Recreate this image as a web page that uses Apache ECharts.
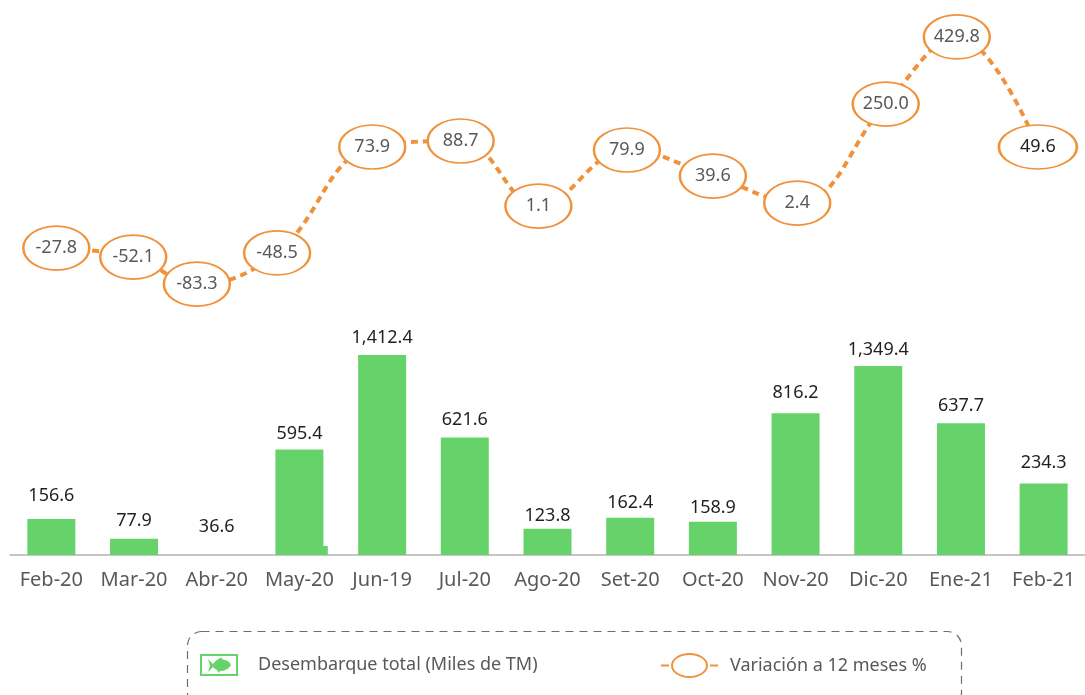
<!DOCTYPE html>
<html>
<head>
<meta charset="utf-8">
<style>
  html, body { margin: 0; height: 100%; background: #fff; overflow: hidden; }
  #chart { width: 1085px; height: 695px; }
</style>
</head>
<body>
<div id="chart"></div>
<script src="https://cdn.jsdelivr.net/npm/echarts@6/dist/echarts.min.js"></script>
<script>
const months = ['Feb-20', 'Mar-20', 'Abr-20', 'May-20', 'Jun-19', 'Jul-20', 'Ago-20', 'Set-20', 'Oct-20', 'Nov-20', 'Dic-20', 'Ene-21', 'Feb-21']

// printed labels
const landingLabels = [156.6, 77.9, 36.6, 595.4, 1412.4, 621.6, 123.8, 162.4, 158.9, 816.2, 1349.4, 637.7, 234.3]
const variationLabels = [-27.8, -52.1, -83.3, -48.5, 73.9, 88.7, 1.1, 79.9, 39.6, 2.4, 250.0, 429.8, 49.6]

// the picture does not draw to scale, so these are the heights as drawn
const landingDrawn = [255, 114, 0, 745, 1412, 830, 185, 263, 234, 1000, 1335, 930, 504]
const variationDrawn = [17.3, 14.3, 5.3, 15.7, 51, 53, 31.3, 50, 41.3, 32.3, 65.3, 87.7, 51]
// where each ellipse sits along the months, 0 = first month
const variationMonth = [0.06, 0.99, 1.76, 2.73, 3.88, 4.95, 5.89, 6.96, 8.0, 9.02, 10.09, 10.95, 11.93]
// stray sliver under the May bar
const strayDrawn = [0, 0, 0, 64, 0, 0, 0, 0, 0, 0, 0, 0, 0]

// gap between bar top and its label
const labelGaps = [14, 9, 19, 7, 8, 9, 4, 6, 5, 11, 7, 8, 12]

const GREEN = '#66D36A'
const ORANGE = '#F0923B'
const FONT = '"Noto Sans", sans-serif'

const ellipsePath = 'path://M0 1A1 1 0 1 1 2 1A1 1 0 1 1 0 1Z'
const fishIcon = 'path://M0 0H38V22H0ZM2 2V20H36V2ZM8 5L13 10C16 6 19 5 21 3.5L23 5.5C27 6 30 8 31 11C29 15 24 17 20 17L19 19L17 16C15 15 14 14 13 13L8 18L10 11.5Z'
const ringIcon = 'path://M10 12.5A18.5 12.5 0 1 1 47 12.5A18.5 12.5 0 1 1 10 12.5ZM12 12.5A16.5 10.5 0 1 0 45 12.5A16.5 10.5 0 1 0 12 12.5ZM0 11.5H8V13.5H0ZM49 11.5H57V13.5H49Z'

const fmt = v => v.toLocaleString('en-US', { minimumFractionDigits: 1, maximumFractionDigits: 1 })

const chart = echarts.init(document.getElementById('chart'), null, { renderer: 'canvas' })
chart.setOption({
  animation: false,
  textStyle: { fontFamily: FONT },
  grid: [
    { left: 10, right: 0, top: 355, bottom: 140 },
    { left: 10, right: 0, top: 0, height: 300 },
    { left: 16, right: -6, top: 355, bottom: 140 }
  ],
  xAxis: [
    {
      type: 'category',
      gridIndex: 0,
      data: months,
      axisTick: { show: false },
      axisLine: { lineStyle: { color: '#B3B3B3', width: 1.5 } },
      axisLabel: { interval: 0, color: '#58595B', fontSize: 20, margin: 15, fontFamily: FONT }
    },
    { type: 'value', gridIndex: 1, min: -0.5, max: 12.5, show: false },
    { type: 'category', gridIndex: 2, data: months, show: false }
  ],
  yAxis: [
    { type: 'value', gridIndex: 0, min: 0, max: 1412, show: false },
    { type: 'value', gridIndex: 1, min: 0, max: 100, show: false },
    { type: 'value', gridIndex: 2, min: 0, max: 1412, show: false }
  ],
  legend: [
    {
      left: 200,
      top: 654,
      padding: 0,
      itemWidth: 38,
      itemHeight: 22,
      data: [{ name: 'Desembarque total (Miles de TM)', icon: fishIcon }],
      textStyle: { color: '#58595B', fontSize: 18, padding: [12, 0, 0, 15], fontFamily: FONT }
    },
    {
      left: 661,
      top: 653,
      padding: 0,
      itemWidth: 57,
      itemHeight: 25,
      data: [{
        name: 'Variación a 12 meses %',
        icon: ringIcon,
        itemStyle: { color: ORANGE, borderWidth: 0 }
      }],
      textStyle: { color: '#58595B', fontSize: 18, padding: [12, 0, 0, 7], fontFamily: FONT }
    }
  ],
  graphic: [{
    type: 'rect',
    silent: true,
    shape: { x: 187.5, y: 631.5, width: 774, height: 75, r: 14 },
    style: { fill: 'none', stroke: '#6D6E71', lineWidth: 1.2, lineDash: [8, 6] }
  }],
  series: [
    {
      name: 'Stray',
      type: 'bar',
      xAxisIndex: 2,
      yAxisIndex: 2,
      barWidth: 48,
      itemStyle: { color: GREEN },
      data: strayDrawn
    },
    {
      name: 'Desembarque total (Miles de TM)',
      type: 'bar',
      xAxisIndex: 0,
      yAxisIndex: 0,
      barWidth: 48,
      itemStyle: { color: GREEN },
      data: landingDrawn.map((v, i) => ({
        value: v,
        label: {
          show: true,
          position: 'top',
          distance: labelGaps[i],
          formatter: fmt(landingLabels[i]),
          color: '#231F20',
          fontSize: 18,
          fontFamily: FONT
        }
      }))
    },
    {
      name: 'Variación a 12 meses %',
      type: 'line',
      xAxisIndex: 1,
      yAxisIndex: 1,
      smooth: 0.4,
      symbol: ellipsePath,
      symbolSize: [66, 44],
      symbolKeepAspect: false,
      lineStyle: { color: ORANGE, width: 4, type: [7, 5] },
      itemStyle: { color: '#fff', borderColor: ORANGE, borderWidth: 2 },
      label: {
        show: true,
        position: 'inside',
        formatter: p => fmt(variationLabels[p.dataIndex]),
        color: '#58595B',
        fontSize: 18,
        fontFamily: FONT
      },
      data: variationDrawn.map((v, i) => {
        const item = { value: [variationMonth[i], v] }
        // last ellipse is wider and its label darker
        if (i === variationDrawn.length - 1) {
          item.symbolSize = [78, 44]
          item.label = { color: '#231F20' }
        }
        return item
      })
    }
  ]
})
window.addEventListener('resize', () => chart.resize())
</script>
</body>
</html>
